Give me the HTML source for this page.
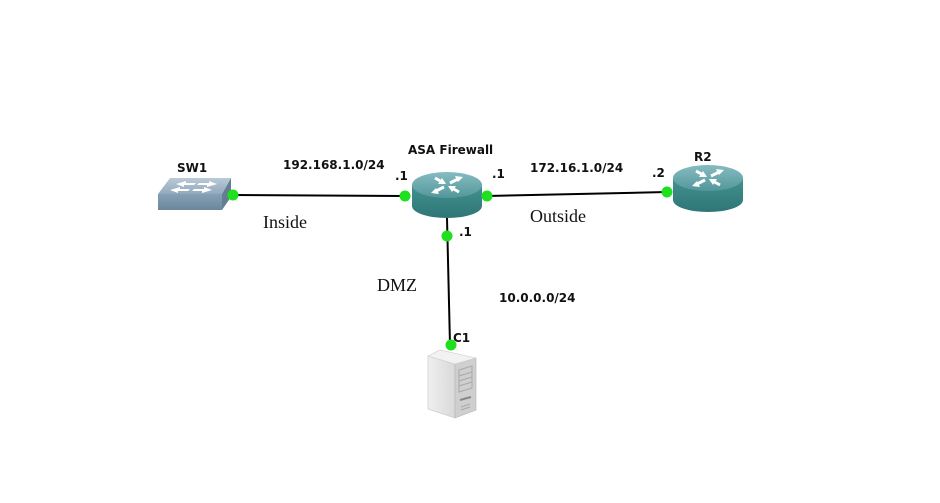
<!DOCTYPE html>
<html><head><meta charset="utf-8"><style>
html,body{margin:0;padding:0;background:#fff;width:940px;height:503px;overflow:hidden}
svg{display:block}
.b{font-family:"DejaVu Sans","Liberation Sans",sans-serif;font-weight:bold;font-size:12px;fill:#111}
.s{font-family:"Liberation Serif",serif;font-size:18px;fill:#111}
</style></head><body>
<svg width="940" height="503" viewBox="0 0 940 503" xmlns="http://www.w3.org/2000/svg">
<defs>
<linearGradient id="rtop" x1="0" y1="0" x2="0" y2="1"><stop offset="0" stop-color="#86bcc0"/><stop offset="1" stop-color="#52979b"/></linearGradient>
<linearGradient id="rside" x1="0" y1="0" x2="0" y2="1"><stop offset="0" stop-color="#42918f"/><stop offset="1" stop-color="#2f7677"/></linearGradient>
<linearGradient id="swtop" x1="0" y1="0" x2="0" y2="1"><stop offset="0" stop-color="#b9cad8"/><stop offset="1" stop-color="#93a9bb"/></linearGradient>
<linearGradient id="swfront" x1="0" y1="0" x2="0" y2="1"><stop offset="0" stop-color="#86a0b5"/><stop offset="1" stop-color="#6c869b"/></linearGradient>
<linearGradient id="srv" x1="0" y1="0" x2="1" y2="0"><stop offset="0" stop-color="#efefef"/><stop offset="1" stop-color="#d9d9d9"/></linearGradient>
<g id="arrows">
<g stroke="#fff" stroke-width="3" stroke-linecap="butt">
<line x1="-3" y1="-2" x2="-12" y2="-7"/>
<line x1="3" y1="2" x2="12" y2="7"/>
<line x1="3" y1="-2" x2="11" y2="-6"/>
<line x1="-3" y1="2" x2="-11" y2="6"/>
</g>
<g fill="#fff">
<polygon points="-1,-1 -9,-1 -5,-7"/>
<polygon points="1,1 9,1 5,7"/>
<polygon points="16,-8 8,-9 11,-3"/>
<polygon points="-16,8 -8,9 -11,3"/>
</g>
</g>
</defs>

<!-- connectors -->
<line x1="233" y1="195" x2="405" y2="196" stroke="#000" stroke-width="2"/>
<line x1="487" y1="196" x2="667" y2="192" stroke="#000" stroke-width="2"/>
<line x1="447" y1="218" x2="450" y2="345" stroke="#000" stroke-width="2"/>

<!-- SW1 -->
<polygon points="158,194 222,194 222,210 158,210" fill="url(#swfront)"/>
<polygon points="222,194 231,178 231,197 222,210" fill="#647d91"/>
<polygon points="170,178 231,178 222,194 158,194" fill="url(#swtop)"/>
<g fill="#fff">
<polygon points="176,184 186,181 186,183 196,183 194,185 184,185 184,187"/>
<polygon points="217,184 207,187 207,185 197,185 199,183 209,183 209,181"/>
<polygon points="170,190 180,187 180,189 190,189 188,191 178,191 178,193"/>
<polygon points="212,190 202,193 202,191 192,191 194,189 204,189 204,187"/>
</g>

<!-- ASA router -->
<g transform="translate(447,0)">
<path d="M-35,185 L-35,206 A35,12 0 0 0 35,206 L35,185 Z" fill="url(#rside)"/>
<ellipse cx="0" cy="185" rx="35" ry="13" fill="url(#rtop)"/>
<g transform="translate(0,185)"><use href="#arrows"/></g>
</g>

<!-- R2 router -->
<g transform="translate(708,0)">
<path d="M-35,178 L-35,200 A35,12 0 0 0 35,200 L35,178 Z" fill="url(#rside)"/>
<ellipse cx="0" cy="178" rx="35" ry="13" fill="url(#rtop)"/>
<g transform="translate(0,178)"><use href="#arrows"/></g>
</g>

<!-- C1 server -->
<polygon points="428,356 455,364 455,418 428,409" fill="url(#srv)" stroke="#c4c4c4" stroke-width="0.6"/>
<polygon points="455,364 476,358 476,410 455,418" fill="#cfcfcf" stroke="#b4b4b4" stroke-width="0.6"/>
<polygon points="428,356 440,350 476,358 455,364" fill="#f2f2f2" stroke="#cccccc" stroke-width="0.6"/>
<g stroke="#a8a8a8" stroke-width="1" fill="none">
<polygon points="459,370 472,366 472,388 459,392"/>
<line x1="459" y1="376" x2="472" y2="372"/>
<line x1="459" y1="381" x2="472" y2="377"/>
<line x1="459" y1="386" x2="472" y2="382"/>
<line x1="460" y1="400" x2="471" y2="397" stroke="#888" stroke-width="2"/>
<line x1="461" y1="407" x2="470" y2="404"/>
<line x1="461" y1="410" x2="470" y2="407"/>
</g>

<!-- green dots -->
<g fill="#1ee01e">
<circle cx="233" cy="195" r="5.5"/>
<circle cx="405" cy="196" r="5.5"/>
<circle cx="487" cy="196" r="5.5"/>
<circle cx="667" cy="192" r="5.5"/>
<circle cx="447" cy="236" r="5.5"/>
<circle cx="451" cy="345" r="5.5"/>
</g>

<!-- labels -->
<text class="b" x="177" y="172">SW1</text>
<text class="b" x="283" y="169">192.168.1.0/24</text>
<text class="b" x="408" y="154">ASA Firewall</text>
<text class="b" x="395" y="180">.1</text>
<text class="b" x="492" y="178">.1</text>
<text class="b" x="459" y="236">.1</text>
<text class="b" x="530" y="172">172.16.1.0/24</text>
<text class="b" x="652" y="177">.2</text>
<text class="b" x="694" y="161">R2</text>
<text class="b" x="499" y="302">10.0.0.0/24</text>
<text class="b" x="453" y="342">C1</text>
<text class="s" x="263" y="228">Inside</text>
<text class="s" x="530" y="222">Outside</text>
<text class="s" x="377" y="291">DMZ</text>
</svg>
</body></html>
